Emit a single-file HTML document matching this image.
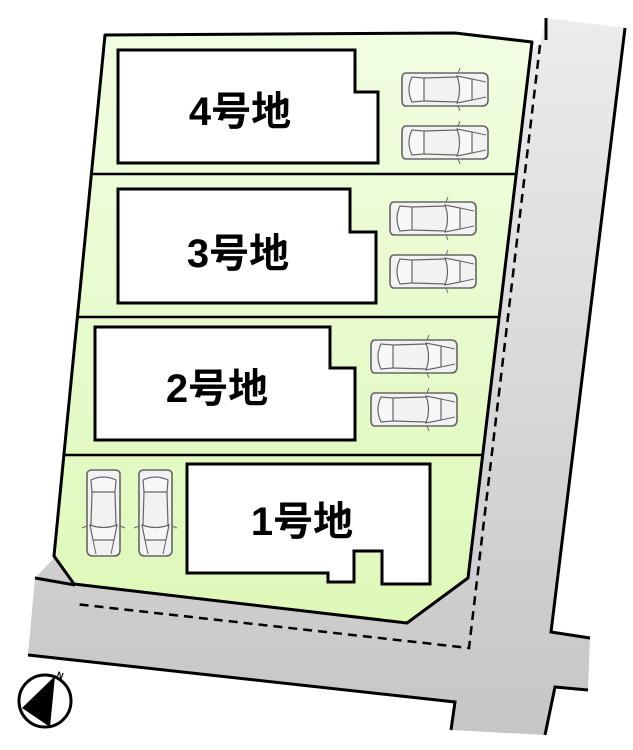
<!DOCTYPE html>
<html><head><meta charset="utf-8"><style>
html,body{margin:0;padding:0;background:#fff;width:633px;height:750px;overflow:hidden}
svg{display:block}
text{font-family:"Liberation Sans","Noto Sans CJK JP",sans-serif;font-weight:700}
</style></head><body>
<svg width="633" height="750" viewBox="0 0 633 750" xmlns="http://www.w3.org/2000/svg">
<defs>
<linearGradient id="rg" x1="0" y1="0" x2="0" y2="1"><stop offset="0" stop-color="#ececec"/><stop offset="1" stop-color="#c6c6c6"/></linearGradient>
<linearGradient id="gg" x1="0" y1="0" x2="0" y2="1"><stop offset="0" stop-color="#f1fde2"/><stop offset="1" stop-color="#def8b8"/></linearGradient>
<g id="car">
<path d="M4 1 L80 1 Q86 1 86 7 L86 28 Q86 34 80 34 L4 34 Q0 34 0 28 L0 7 Q0 1 4 1 Z" fill="#f2f2f2" stroke="#666" stroke-width="1.6"/>
<path d="M10 5 Q4 17.5 10 30 L22 29 L22 6 Z" fill="#f7f7f7" stroke="#666" stroke-width="1.2"/>
<path d="M22 6 L55 5 M22 29 L55 30" fill="none" stroke="#666" stroke-width="1.2"/>
<path d="M55 4 Q60 17.5 55 31 L70 28 L70 7 Z" fill="#f7f7f7" stroke="#666" stroke-width="1.2"/>
<path d="M70 7 L84 10 M70 28 L84 25" fill="none" stroke="#666" stroke-width="1"/>
<path d="M56 1 L58 -4 M56 34 L58 39" fill="none" stroke="#666" stroke-width="1"/>
</g>
<g id="vcar"><use href="#car" transform="translate(37,0) rotate(90)"/></g>
</defs>
<polygon points="35,578 540,42 546,18 625,28 551,632 590,638 588,690 555,687 545,735 451,730 455,702 28,655" fill="url(#rg)"/>
<polyline points="546,40 546,18" fill="none" stroke="#000" stroke-width="3"/>
<polyline points="625,28 551,632 590,638" fill="none" stroke="#000" stroke-width="3"/>
<polyline points="588,690 555,687 545,735" fill="none" stroke="#000" stroke-width="3"/>
<polyline points="451,730 455,702 28,655" fill="none" stroke="#000" stroke-width="3"/>
<polyline points="35,578 75,585" fill="none" stroke="#000" stroke-width="3"/>
<polyline points="540,45 469,648 75,604" fill="none" stroke="#000" stroke-width="2.5" stroke-dasharray="9,6"/>
<polygon points="105,35 455,33 532,42 468,578 407,623 74,584 54,556" fill="url(#gg)" stroke="#000" stroke-width="3" stroke-linejoin="round"/>
<line x1="92" y1="174" x2="516" y2="174" stroke="#000" stroke-width="2.5"/>
<line x1="78" y1="317" x2="499" y2="317" stroke="#000" stroke-width="2.5"/>
<line x1="65" y1="455" x2="483" y2="455" stroke="#000" stroke-width="2.5"/>
<polygon points="118,50 355,50 355,92 378,92 378,163 118,163" fill="#fff" stroke="#000" stroke-width="3"/>
<polygon points="118,189 350,189 350,232 376,232 376,303 118,303" fill="#fff" stroke="#000" stroke-width="3"/>
<polygon points="95,327 330,327 330,368 355,368 355,440 95,440" fill="#fff" stroke="#000" stroke-width="3"/>
<polygon points="187,464 430,464 430,584 382,584 382,551 354,551 354,582 328,582 328,573 187,573" fill="#fff" stroke="#000" stroke-width="3"/>
<text x="240" y="125" font-size="40" text-anchor="middle">4号地</text>
<text x="238" y="267" font-size="40" text-anchor="middle">3号地</text>
<text x="217" y="402" font-size="40" text-anchor="middle">2号地</text>
<text x="302" y="535" font-size="40" text-anchor="middle">1号地</text>
<use href="#car" x="402" y="72"/>
<use href="#car" x="402" y="125"/>
<use href="#car" x="390" y="201"/>
<use href="#car" x="390" y="254"/>
<use href="#car" x="371" y="339"/>
<use href="#car" x="371" y="392"/>
<use href="#vcar" x="84" y="470"/>
<use href="#vcar" x="136" y="470"/>
<circle cx="45" cy="701" r="26" fill="#fff" stroke="#000" stroke-width="3"/>
<polygon points="55,676 50,727 22,708" fill="#000"/>
<text x="56" y="677" font-size="9" font-weight="400" transform="rotate(20 56 677)">N</text>
</svg>
</body></html>
